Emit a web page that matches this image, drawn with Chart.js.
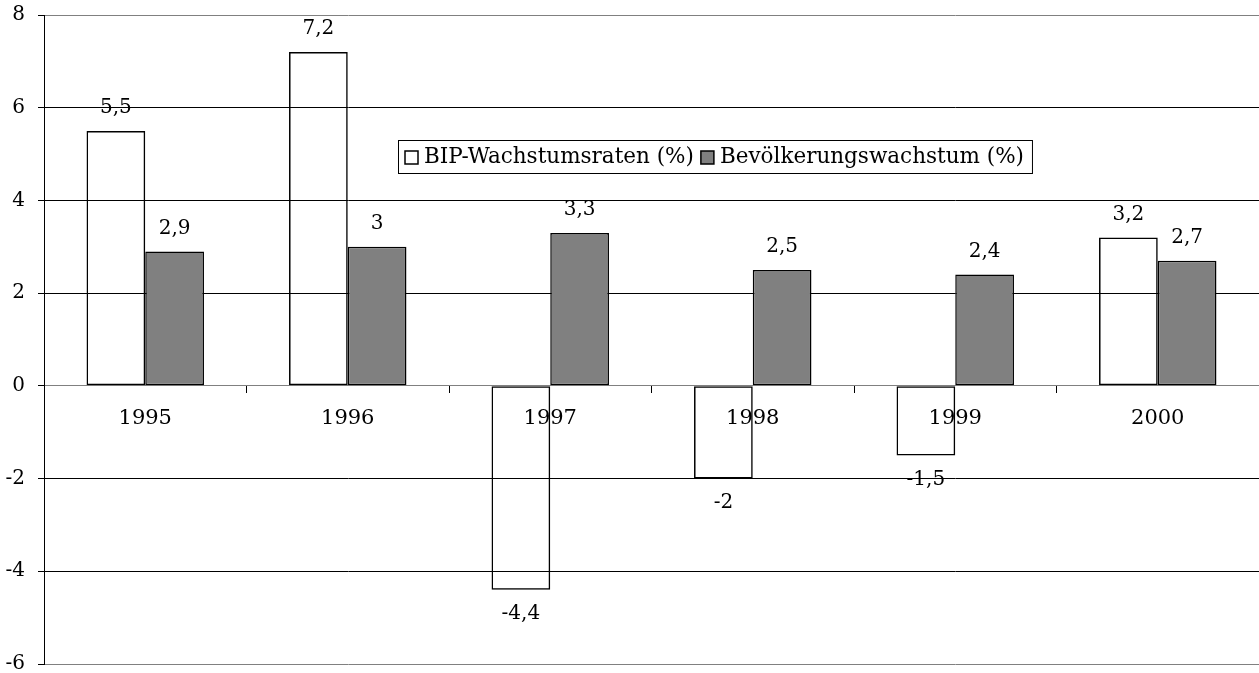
<!DOCTYPE html>
<html>
<head>
<meta charset="utf-8">
<style>
  html, body { margin: 0; padding: 0; background: #fff; }
  #wrap { width: 1259px; height: 673px; }
</style>
</head>
<body>
<div id="wrap"><canvas id="growthChart"></canvas></div>

<script src="https://cdn.jsdelivr.net/npm/chart.js"></script>
<script>
    const years = ["1995", "1996", "1997", "1998", "1999", "2000"];
    const bipGrowth = [5.5, 7.2, -4.4, -2, -1.5, 3.2];
    const popGrowth = [2.9, 3, 3.3, 2.5, 2.4, 2.7];
    const seriesNames = ["BIP-Wachstumsraten (%)", "Bevölkerungswachstum (%)"];
    const yTicks = [-6, -4, -2, 0, 2, 4, 6, 8];

    const FONT = "DejaVu Serif";
    const fmt = v => String(v).replace(".", ",");

    // value labels above / below each bar
    const valueLabels = {
        id: "valueLabels",
        afterDatasetsDraw(chart) {
            const ctx = chart.ctx;
            ctx.save();
            ctx.font = "20px '" + FONT + "'";
            ctx.fillStyle = "#000";
            ctx.textAlign = "center";
            ctx.textBaseline = "middle";
            chart.data.datasets.forEach((ds, i) => {
                chart.getDatasetMeta(i).data.forEach((bar, j) => {
                    const v = ds.data[j];
                    const y = v >= 0 ? bar.y - 23 : bar.y + 24;
                    ctx.fillText(fmt(v), bar.x, y);
                });
            });
            ctx.restore();
        }
    };

    // boxed legend sitting inside the plot
    const boxLegend = {
        id: "boxLegend",
        afterDraw(chart) {
            const ctx = chart.ctx;
            const sets = chart.data.datasets;
            ctx.save();
            ctx.font = "21.5px '" + FONT + "'";
            const sq = 13, gap = 6, sep = 7, padL = 7, padR = 8;
            const left = 398, top = 140, h = 33;
            let w = padL + padR;
            sets.forEach((d, i) => {
                w += sq + gap + ctx.measureText(d.label).width + (i < sets.length - 1 ? sep : 0);
            });
            ctx.fillStyle = "#fff";
            ctx.fillRect(left, top, w, h);
            ctx.strokeStyle = "#000";
            ctx.lineWidth = 1;
            ctx.strokeRect(left + 0.5, top + 0.5, w, h);
            let x = left + padL;
            const cy = top + h / 2 + 1;
            ctx.textBaseline = "middle";
            sets.forEach(d => {
                ctx.fillStyle = d.legendFill;
                ctx.fillRect(x, cy - sq / 2, sq, sq);
                ctx.lineWidth = 1.5;
                ctx.strokeRect(x, cy - sq / 2, sq, sq);
                x += sq + gap;
                ctx.fillStyle = "#000";
                ctx.fillText(d.label, x, cy);
                x += ctx.measureText(d.label).width + sep;
            });
            ctx.restore();
        }
    };

    const edgeGrey = v => (v === 0 || v === 8 || v === -6) ? "#808080" : "#000";

    const ctx = document.getElementById("growthChart").getContext("2d");
    new Chart(ctx, {
        type: "bar",
        data: {
            labels: years,
            datasets: [{
                label: seriesNames[0],
                data: bipGrowth,
                backgroundColor: "rgba(255,255,255,0)",
                legendFill: "#fff",
                borderColor: "#000",
                borderWidth: 1.5,
                borderSkipped: false,
                inflateAmount: 0
            }, {
                label: seriesNames[1],
                data: popGrowth,
                backgroundColor: "#808080",
                legendFill: "#808080",
                borderColor: "#000",
                borderWidth: 1.5,
                borderSkipped: false,
                inflateAmount: 0
            }]
        },
        options: {
            responsive: true,
            maintainAspectRatio: false,
            animation: false,
            layout: { padding: { top: 15, right: 0, bottom: 9, left: 0 } },
            datasets: { bar: { categoryPercentage: 0.58, barPercentage: 1.0 } },
            plugins: {
                legend: { display: false },
                tooltip: { enabled: false }
            },
            scales: {
                x: {
                    position: { y: 0 },
                    grid: { drawOnChartArea: false, drawTicks: true, tickLength: 7, offset: true, color: "#000" },
                    border: { display: true, color: "#808080", width: 1 },
                    ticks: { color: "#000", font: { family: FONT, size: 21 }, padding: 13 }
                },
                y: {
                    min: -6,
                    max: 8,
                    afterBuildTicks: axis => { axis.ticks = yTicks.map(v => ({ value: v })); },
                    afterFit: axis => { axis.width = 44; axis.paddingTop = 0; axis.paddingBottom = 0; },
                    grid: {
                        color: c => edgeGrey(c.tick ? c.tick.value : null),
                        tickColor: "#000",
                        lineWidth: 1, drawTicks: true, tickLength: 6
                    },
                    border: { display: true, color: "#000", width: 1 },
                    ticks: { color: "#000", font: { family: FONT, size: 20 }, padding: 13 }
                }
            }
        },
        plugins: [valueLabels, boxLegend]
    });
</script>
</body>
</html>
